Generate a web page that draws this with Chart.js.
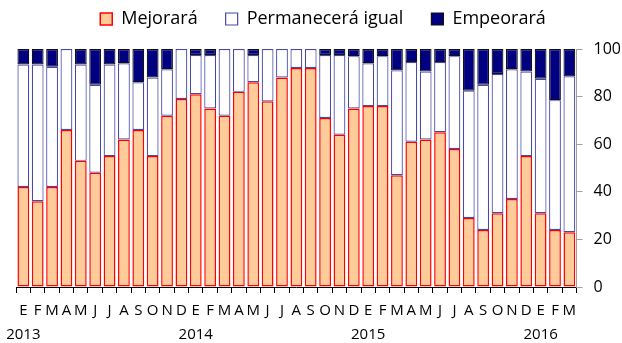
<!DOCTYPE html>
<html>
<head>
<meta charset="utf-8">
<script src="https://cdn.jsdelivr.net/npm/chart.js@4"></script>
<style>
  html, body { margin: 0; padding: 0; background: #fff; }
  #wrap { width: 622px; height: 343px; }
</style>
</head>
<body>
<div id="wrap"><canvas id="chart"></canvas></div>
<script>
const months = ['E','F','M','A','M','J','J','A','S','O','N','D'];
const years = ['2013', '2014', '2015', '2016'];

// share of answers per month, Jan 2013 - Mar 2016
const mejorara = [42, 36, 42, 66, 53, 48, 55, 62, 66, 55, 72, 79,
                  81, 75, 72, 82, 86, 78, 88, 92, 92, 71, 64, 75,
                  76, 76, 47, 61, 62, 65, 58, 29, 24, 31, 37, 55,
                  31, 24, 23];
const permanecera = [51.5, 57.5, 50.5, 34, 40.5, 37, 38.5, 32, 20, 33, 19.5, 21,
                     16.5, 22.5, 28, 18, 11.5, 22, 12, 8, 8, 26.5, 33.5, 22,
                     18, 21, 44, 33.5, 28.5, 29.5, 39, 53.5, 61, 58.5, 54.5, 35.5,
                     56.5, 54.5, 65.5];
const empeorara = [6.5, 6.5, 7.5, 0, 6.5, 15, 6.5, 6, 14, 12, 8.5, 0,
                   2.5, 2.5, 0, 0, 2.5, 0, 0, 0, 0, 2.5, 2.5, 3,
                   6, 3, 9, 5.5, 9.5, 5.5, 3, 17.5, 15, 10.5, 8.5, 9.5,
                   12.5, 21.5, 11.5];

// month letter, plus the year under each January
const labels = mejorara.map((_, i) => {
    const m = months[i % 12];
    return i % 12 === 0 ? [m, years[i / 12]] : m;
});

const font = "'Open Sans', 'Liberation Sans', sans-serif";

// extra room between the legend and the bars
const legendGap = {
    id: 'legendGap',
    beforeInit(chart) {
        const fit = chart.legend.fit;
        chart.legend.fit = function () {
            fit.bind(chart.legend)();
            this.height += 11;
        };
    }
};

new Chart(document.getElementById('chart').getContext('2d'), {
    type: 'bar',
    data: {
        labels: labels,
        datasets: [{
            label: 'Mejorará',
            data: mejorara,
            backgroundColor: '#FFCC99',
            borderColor: '#FF0000',
            borderWidth: 1.5,
            borderSkipped: false
        }, {
            label: 'Permanecerá igual',
            data: permanecera,
            backgroundColor: '#FFFFFF',
            borderColor: '#4848A8',
            borderWidth: 1.2,
            borderSkipped: false
        }, {
            label: 'Empeorará',
            data: empeorara,
            backgroundColor: '#000080',
            borderColor: '#111111',
            borderWidth: 1.2,
            borderSkipped: false
        }]
    },
    plugins: [legendGap],
    options: {
        responsive: true,
        maintainAspectRatio: false,
        animation: false,
        layout: { padding: { left: 14, right: -10, top: -18, bottom: 0 } },
        datasets: { bar: { barPercentage: 0.82, categoryPercentage: 1 } },
        plugins: {
            tooltip: { enabled: false },
            legend: {
                position: 'top',
                labels: {
                    color: '#000',
                    font: { family: font, size: 18 },
                    boxWidth: 12,
                    boxHeight: 12,
                    padding: 28
                }
            }
        },
        scales: {
            x: {
                stacked: true,
                afterFit(scale) { scale.height = 56; },
                border: { color: '#000', width: 1 },
                grid: {
                    offset: true,
                    drawOnChartArea: false,
                    drawTicks: true,
                    tickLength: 6,
                    color: '#000'
                },
                ticks: {
                    color: '#000',
                    maxRotation: 0,
                    autoSkip: false,
                    padding: 6,
                    font: { family: font, size: 15, lineHeight: 1.6 }
                }
            },
            y: {
                stacked: true,
                position: 'right',
                min: 0,
                max: 100,
                border: { color: '#A0A0A0', width: 1 },
                grid: {
                    drawOnChartArea: false,
                    drawTicks: true,
                    tickLength: 6,
                    color: '#A0A0A0'
                },
                ticks: {
                    stepSize: 20,
                    color: '#000',
                    padding: 11,
                    font: { family: font, size: 16 }
                }
            }
        }
    }
});
</script>
</body>
</html>
